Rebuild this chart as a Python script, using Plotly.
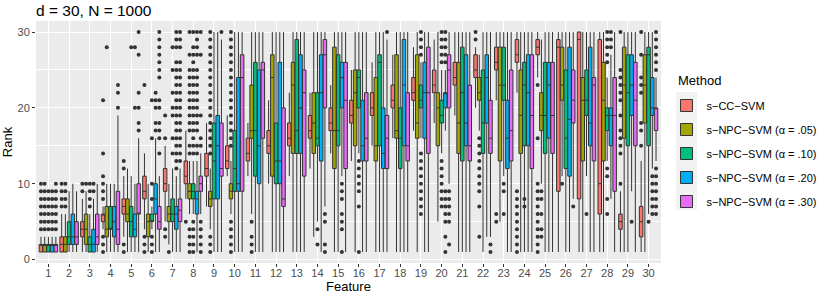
import plotly.graph_objects as go

features = list(range(1, 31))
tick_labels = [str(i) for i in features]

methods = ["s\u2212CC\u2212SVM", "s\u2212NPC\u2212SVM (\u03b1 = .05)", "s\u2212NPC\u2212SVM (\u03b1 = .10)",
           "s\u2212NPC\u2212SVM (\u03b1 = .20)", "s\u2212NPC\u2212SVM (\u03b1 = .30)"]
colors = ["#F8766D", "#A3A500", "#00BF7D", "#00B0F6", "#E76BF3"]

# (lower whisker, q1, median, q3, upper whisker) per feature 1..30
cc_stats = [(1,1,2,2,3),(1,1,2,3,6),(1,3,4,5,8),(4,5,6,6,7),(3,6,7,8,11),(4,8,9,11,14),(5,9,10,12,15),
            (8,10,11,13,17),(7,11,12,14,18),(11,12,13,15,19),(11,13,14,16,18),(10,14,15,17,21),(11,15,16,18,22),
            (12,16,17,19,22),(14,17,18,20,23),(13,18,19,21,25),(15,19,20,22,26),(16,20,21,23,27),(17,21,22,24,28),
            (18,22,23,25,29),(19,23,24,26,30),(20,24,25,27,28),(21,25,26,28,30),(22,26,27,29,30),(24,27,28,29,30),
            (1,9,28,29,30),(1,8,29,30,30),(1,6,10,29,30),(1,4,5,6,9),(1,3,5,7,13)]
n05_stats = [(1,1,2,2,3),(1,1,2,3,6),(1,2,4,6,9),(1,3,4,7,10),(1,5,6,8,12),(1,3,5,6,10),(2,5,6,7,10),
             (6,8,9,10,13),(4,7,8,9,12),(6,8,9,10,13),(6,16,17,23,30),(1,11,24,27,30),(1,14,23,26,30),
             (3,14,18,22,30),(1,12,17,28,30),(1,15,22,25,30),(1,13,15,24,30),(1,16,17,27,30),(1,16,18,27,30),
             (5,15,20,22,30),(1,14,18,26,30),(17,21,22,24,27),(5,13,23,28,30),(1,14,19,25,30),(10,17,19,22,29),
             (11,21,23,28,30),(1,13,21,24,30),(1,13,21,26,30),(1,16,23,28,30),(1,18,23,27,30)]
n10_stats = [(1,1,2,2,3),(1,2,3,5,9),(1,1,2,3,6),(1,4,4,7,10),(1,3,5,7,11),(4,5,5,6,7),(1,5,6,8,12),
             (6,8,9,10,13),(1,8,13,18,30),(1,9,12,17,30),(1,11,17,26,30),(1,10,13,18,30),(1,14,17,29,30),
             (5,15,16,22,30),(1,15,17,27,30),(14,20,24,25,30),(1,15,26,27,30),(1,12,16,20,30),(16,20,21,23,26),
             (14,18,19,21,25),(1,13,22,28,30),(1,14,18,25,30),(11,21,23,28,30),(1,15,23,26,30),(1,14,19,26,30),
             (1,12,16,25,30),(11,19,21,25,30),(13,17,19,20,24),(1,15,22,27,30),(6,15,27,28,30)]
n20_stats = [(1,1,2,2,3),(1,2,3,6,10),(1,1,2,4,8),(1,3,5,7,10),(1,3,4,6,10),(1,6,8,10,16),(1,4,6,7,11),
             (1,6,8,9,13),(1,8,15,19,30),(1,9,10,24,30),(1,10,15,25,30),(1,10,13,26,30),(1,14,20,27,30),
             (1,13,22,27,30),(11,20,24,26,30),(1,13,15,21,30),(1,12,14,20,30),(1,15,23,29,30),(1,16,22,26,30),
             (17,20,22,22,25),(1,15,18,27,30),(3,18,24,27,30),(1,12,16,21,30),(1,15,22,27,30),(1,16,23,26,30),
             (1,11,18.5,28,30),(1,15,18,28,30),(8,15,19,20,27),(9,19,23,27,30),(12,19,20,24,30)]
n30_stats = [(1,1,2,2,3),(1,2,3,5,9),(1,2,3,6,10),(1,2,4,9,19),(1,6,6,10,16),(1,4,5,7,11),(1,5,6.5,8,12),
             (6,9,10,11,14),(1,11,12,18,29),(1,9,24,27,30),(1,16,25,26,30),(1,7,8,20,30),(1,11,22,25,30),
             (7,20,27,29,30),(1,12,21,26,30),(1,13,16,22,30),(1,12,16,19,29),(1,13,15,22,30),(1,14,22,28,30),
             (10,20,25,27,30),(1,13,15,23,30),(3,14,16,21,30),(1,13,17,25,30),(1,12,19,27,30),(1,14,19,26,30),
             (8,18,21,25,30),(1,13,23,24,30),(1,9,19,24,30),(1,15,21,26,30),(13,17,20,20,24)]

# outlying ranks per feature 1..30
cc_out = [[4,5,6,7,8,9,10],[7,8,9,10],[9,10],[1,2,3,8,9,10,11,14,21],[1,2,12,13],[1,2,3,23],[3,4,16,19],[5],
          [],[],[],[],[],[],[],[],[],[],[],[],[],[29,30],[5,6],[1,2,3,4,5,6,7,8,9],
          [1,2,3,4,5,6,7,8,9,10,16,23],[],[],[],[10,14,15,16,17,19,21,22,23,24,25,30],[15,17,18,22,23,24,27,30]]
n05_out = [[4,5,6,7,8,9,10],[7,8,9,10],[10],[28],[],[],[1],
           [1,2,3,4,14,15,17,18,19,20,21,22,23,24,25,27,30],
           [1,2,3,14,15,16,17,18,19,20,21,22,23,24,25,26,27,28,29,30],
           [1,2,3,4,5,15,16,17,18,19,20,21,22,23,24,25,26,27,28,29,30],
           [1,2,3,5],[],[],[],[],[],[],[],[],[],[],[3,7,9,10,11,12,13,14,15,16],[],[],[3,4,6,8,9],[10],[],[],[],[]]
n10_out = [[4,5,6,7,8,9],[],[7,8,9,10],[],[28],[1,2,3,8,10,16,21],[14,16,19,20,22,25,28],
           [1,2,3,4,5,14,15,16,17,18,19,20,21,22,23,24,25,26,27,28,30],
           [],[],[],[],[],[2,4],[],[1,7,9,10,11,12,13],[],[],[6,7,8,9,10,11,12,13,14,27,28,29,30],
           [7,8,9,10,11,12,13,26,27,28,29,30],[],[],[6,9,10],[7,8],[],[],[6],[6,8,11,12,26,27,28,29,30],[],[5]]
n20_out = [[4,5,6,7,8,9],[],[9,10],[],[20,28],[17,18,20,21,22],
           [12,13,14,15,16,17,18,19,20,21,22,23,24,25,26,28,29,30],
           [14,15,17,18,19,20,21,22,23,24,25,27,28,29,30],
           [],[],[],[],[],[],[1,4,5,6,8,9,10],[],[],[],[],[1,3,5,6,7,8,9,26,27,28,29,30],
           [],[],[],[],[],[],[],[28,29,30],[5],[6,7,8,9,10,11]]
n30_out = [[4,5,6,7,8,9,10],[],[],[20,22,23],[17,18,20,22,27,30],[14,16,17,18,20,21,24,25,26,27,28,29,30],
           [13,14,15,16,17,18,19,20,21,22,23,24,25,26,28,29,30],[1,2,3,4,5,15,16,19,27,30],[30],
           [],[],[],[],[1,2,5,6],[],[],[30],[],[],[2,5,6,7,8,9],[],[1,2],[],[],[],[7],[],[],[],
           [6,7,8,9,10,11,12,25,26,27,28,29,30]]

all_stats = [cc_stats, n05_stats, n10_stats, n20_stats, n30_stats]
all_out = [cc_out, n05_out, n10_out, n20_out, n30_out]

dodge = 0.18
box_w = 0.17
line_col = "#333333"

fig = go.Figure()
for m, (name, col, stats) in enumerate(zip(methods, colors, all_stats)):
    off = (m - 2) * dodge
    fig.add_trace(go.Box(
        x=[f + off for f in features],
        lowerfence=[s[0] for s in stats], q1=[s[1] for s in stats], median=[s[2] for s in stats],
        q3=[s[3] for s in stats], upperfence=[s[4] for s in stats],
        width=box_w, name=name, legendgroup=name, fillcolor=col,
        line=dict(color=line_col, width=1), whiskerwidth=0, boxpoints=False, hoverinfo="skip"))
for m, (name, outs) in enumerate(zip(methods, all_out)):
    off = (m - 2) * dodge
    xs, ys = [], []
    for f, vals in zip(features, outs):
        for v in vals:
            xs.append(f + off)
            ys.append(v)
    fig.add_trace(go.Scatter(x=xs, y=ys, mode="markers", legendgroup=name, showlegend=False,
                             marker=dict(color=line_col, size=4), hoverinfo="skip"))

W, H = 830, 297
L, R, T, B = 36, 661, 21, 263
def px_x(p):
    return (p - L) / (R - L)
def px_y(p):
    return (B - p) / (B - T)

font = "Liberation Sans, Arial, sans-serif"
fig.update_layout(
    template="none",
    width=W, height=H,
    margin=dict(l=L, r=W - R, t=T, b=H - B, autoexpand=False),
    paper_bgcolor="white", plot_bgcolor="#EBEBEB",
    font=dict(family=font, color="black"),
    title=dict(text="d = 30, N = 1000", x=0, xref="paper", xanchor="left",
               y=1 - 11 / H, yref="container", yanchor="middle", font=dict(size=15.5, color="black")),
    showlegend=True,
    legend=dict(font=dict(size=11), x=px_x(666.5), xanchor="left", y=px_y(91), yanchor="top",
                traceorder="grouped", tracegroupgap=5, bgcolor="rgba(0,0,0,0)"),
    boxmode="overlay",
    annotations=[dict(text="Method", xref="paper", yref="paper", x=px_x(676), y=px_y(80),
                      xanchor="left", yanchor="middle", showarrow=False, font=dict(size=13, color="black"))],
    shapes=[dict(type="rect", xref="paper", yref="paper", x0=px_x(676), x1=px_x(697),
                 y0=px_y(210), y1=px_y(92), fillcolor="#F2F2F2", line=dict(width=0), layer="below")],
)
fig.update_xaxes(range=[0.4, 30.6], tickvals=features, ticktext=tick_labels, automargin=False,
                 showgrid=True, gridcolor="white", gridwidth=1, zeroline=False, showline=False,
                 ticks="outside", ticklen=3, tickcolor=line_col, tickwidth=1, ticklabelstandoff=-3,
                 tickfont=dict(size=11, color="#4D4D4D"),
                 title=dict(text="Feature", font=dict(size=13), standoff=0))
fig.update_yaxes(range=[-0.45, 31.45], tickvals=[0, 10, 20, 30], automargin=False,
                 showgrid=True, gridcolor="white", gridwidth=1, zeroline=False, showline=False,
                 minor=dict(tickvals=[5, 15, 25], showgrid=True, gridcolor="white", gridwidth=0.5, ticks=""),
                 ticks="outside", ticklen=3, tickcolor=line_col, tickwidth=1,
                 tickfont=dict(size=11, color="#4D4D4D"),
                 title=dict(text="Rank", font=dict(size=13), standoff=7))

# remove the browser's default 8px page margin so the figure sits at the window origin
fig.write_html("out.html", config={"displayModeBar": False},
               post_script="document.body.style.margin='0px';")
